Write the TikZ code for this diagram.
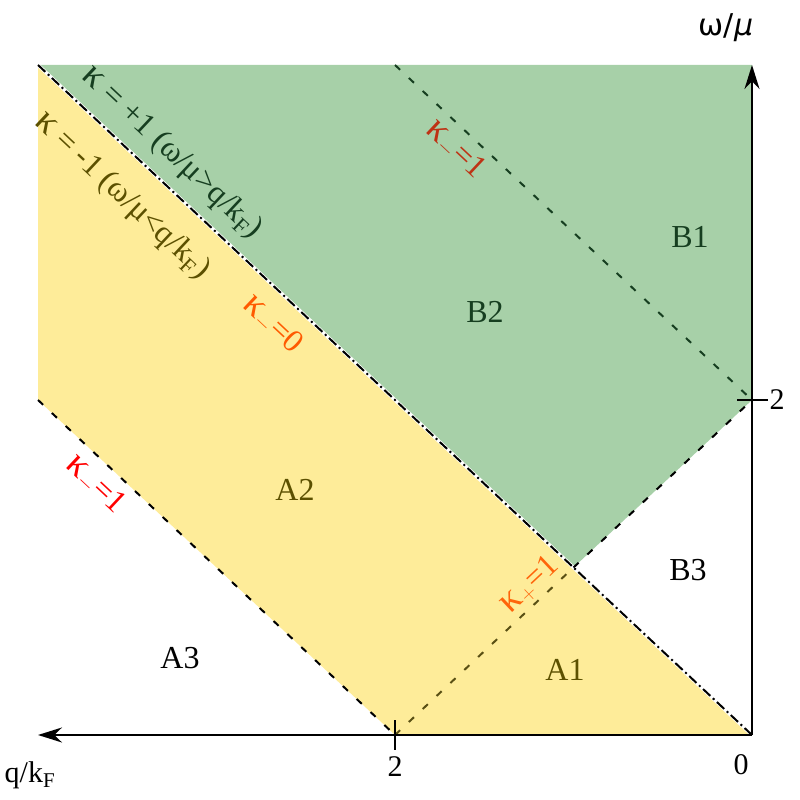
\documentclass[tikz,border=0pt]{standalone}
\usepackage{fontspec}
\setmainfont{Liberation Serif}
\newfontfamily\sansf{DejaVu Sans}
\usetikzlibrary{arrows.meta}
\definecolor{yel}{RGB}{254,236,153}
\definecolor{grn}{RGB}{167,208,168}
\definecolor{dkgreen}{RGB}{22,62,32}
\definecolor{olivetxt}{RGB}{92,80,0}
\definecolor{olivedash}{RGB}{90,80,20}
\definecolor{orangeA}{RGB}{255,90,0}
\definecolor{orangeB}{RGB}{255,100,10}
\definecolor{brownred}{RGB}{190,50,20}
\newcommand{\bigkap}{{\fontsize{38}{38}\selectfont κ}}
\tikzset{
  axisline/.style={line width=2pt, black},
  dsh/.style={line width=2pt, dash pattern=on 7pt off 12pt},
  dshdot/.style={line width=2pt, black, dash pattern=on 10pt off 3.5pt on 2pt off 3.5pt},
  lbl/.style={inner sep=0pt},
  klbl/.style={inner sep=0pt, font=\fontsize{32}{38}\selectfont},
  rlbl/.style={inner sep=0pt, font=\fontsize{32}{38}\selectfont},
  tip/.style={-{Stealth[length=24pt,width=15pt]}}
}
\begin{document}
\begin{tikzpicture}[x=1pt,y=1pt, font=\fontsize{30}{36}\selectfont]
\useasboundingbox (0,0) rectangle (800,800);
\coordinate (O) at (752,65);
\coordinate (Q2) at (395,65);
\coordinate (W2) at (752,400);
\coordinate (P) at (573.5,232.5);
\coordinate (TL) at (38,735);
\coordinate (L2) at (38,400);
\coordinate (TR) at (752,735);
\coordinate (T2) at (395,735);
\coordinate (XE) at (38,65);
% regions
\fill[yel] (TL) -- (O) -- (Q2) -- (L2) -- cycle;
\fill[grn] (TL) -- (TR) -- (W2) [rounded corners=6pt] -- (P) [sharp corners] -- cycle;
% boundary lines
\draw[white, line width=3.5pt] (TL) -- (O);
\draw[dshdot] (TL) -- (O);
\draw[dsh, olivedash] (Q2) -- (P);
\draw[dsh, black] (P) -- (W2);
\draw[dsh, dkgreen] (T2) -- (W2);
\draw[dsh, black] (L2) -- (Q2);
% axes
\draw[axisline, tip] (O) -- (XE);
\draw[axisline, tip] (O) -- (TR);
\coordinate (tq1) at (395,50);
\coordinate (tq2) at (395,80);
\coordinate (tw1) at (737,400);
\coordinate (tw2) at (768,400);
\draw[axisline] (tq1) -- (tq2);
\draw[axisline] (tw1) -- (tw2);
% axis labels
\node[lbl] (wmu) at (726,772) {\sansf ω/\textit{μ}};
\node[lbl] (qkf) at (30,25) {q/k$_{\mathrm{F}}$};
\node[lbl] (zero) at (741,35) {0};
\node[lbl] (two) at (395,33) {2};
\node[lbl] (twov) at (777,400) {2};
% region labels
\node[rlbl, text=dkgreen] (B1) at (690,563) {B1};
\node[rlbl, text=dkgreen] (B2) at (485,488) {B2};
\node[rlbl, text=olivetxt] (A2) at (295,310) {A2};
\node[rlbl, text=black] (B3) at (688,230) {B3};
\node[rlbl, text=black] (A3) at (180,142) {A3};
\node[rlbl, text=olivetxt] (A1) at (565,130) {A1};
% line labels
\node[klbl, text=dkgreen, rotate=-43.2] (kp) at (172,647) {\bigkap{} = +1 (ω/μ>q/k$_{\mathrm{F}}$)};
\node[klbl, text=olivetxt, rotate=-43.2] (km) at (122,604) {\bigkap{} = -1 (ω/μ<q/k$_{\mathrm{F}}$)};
\node[klbl, text=orangeA, rotate=-43.2] (k0) at (272,475) {\bigkap$_-$=0};
\node[klbl, text=brownred, rotate=-43.2] (km1) at (455,650) {\bigkap$_-$=1};
\node[klbl, text=red, rotate=-43.2] (kl1) at (95,315) {\bigkap$_-$=1};
\node[klbl, text=orangeB, rotate=43.2] (kr1) at (530,215) {\bigkap$_+$=1};
\end{tikzpicture}
\end{document}
